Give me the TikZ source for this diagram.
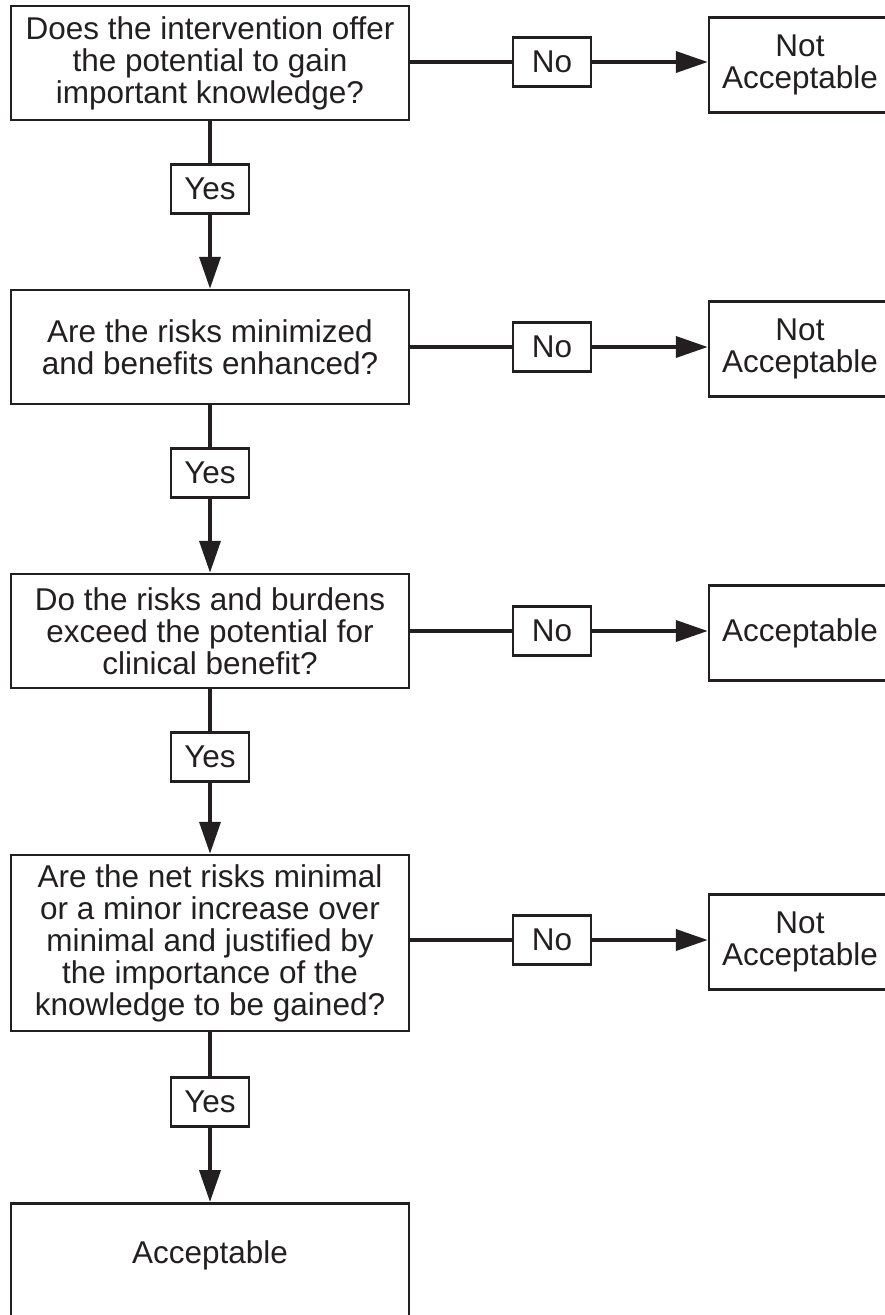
\documentclass[tikz,border=0pt]{standalone}
\usepackage{fontspec}
\setmainfont{Liberation Sans}
\usetikzlibrary{arrows.meta}
\definecolor{ink}{HTML}{231F20}
\tikzset{
  txt/.style={font=\fontsize{31.5}{32}\selectfont, text=ink, align=center, inner sep=0pt},
  mainbox/.style={txt, draw=ink, line width=2.5pt, minimum width=398pt, minimum height=114pt},
  endbox/.style={txt, draw=ink, line width=2.5pt, minimum width=182pt, minimum height=95pt},
  tagbox/.style={txt, draw=ink, line width=2.5pt, minimum width=78pt, minimum height=49pt},
  conn/.style={draw=ink, line width=3.8pt},
  arr/.style={conn, -{Triangle[length=32pt,width=21pt]}}
}
\begin{document}
\begin{tikzpicture}[x=1pt,y=-1pt]
\clip (0,0) rectangle (885,1315);
\fill[white] (0,0) rectangle (885,1315);
% main column
\node[mainbox] (b1) at (210,63) {Does the intervention offer\\the potential to gain\\important knowledge?};
\node[mainbox] (b2) at (210,347) {Are the risks minimized\\and benefits enhanced?};
\node[mainbox] (b3) at (210,631) {Do the risks and burdens\\exceed the potential for\\clinical benefit?};
\node[mainbox, minimum height=176pt] (b4) at (210,943) {Are the net risks minimal\\or a minor increase over\\minimal and justified by\\the importance of the\\knowledge to be gained?};
\node[mainbox, minimum height=130pt, anchor=north] (b5) at (210,1202) {};
\node[txt] (b5t) at (210,1255) {Acceptable};
% yes tags
\node[tagbox] (y1) at (210,189) {Yes};
\node[tagbox] (y2) at (210,473) {Yes};
\node[tagbox] (y3) at (210,757) {Yes};
\node[tagbox] (y4) at (210,1102) {Yes};
% no tags
\node[tagbox] (n1) at (552,62) {No};
\node[tagbox] (n2) at (552,347) {No};
\node[tagbox] (n3) at (552,631) {No};
\node[tagbox] (n4) at (552,940) {No};
% outcome boxes
\node[endbox] (e1) at (800,65) {Not\\Acceptable};
\node[endbox] (e2) at (800,349) {Not\\Acceptable};
\node[endbox] (e3) at (800,633) {Acceptable};
\node[endbox] (e4) at (800,942) {Not\\Acceptable};
% vertical connectors
\path[conn] (b1.south) -- (y1.north);
\path[arr] (y1.south) -- (b2.north);
\path[conn] (b2.south) -- (y2.north);
\path[arr] (y2.south) -- (b3.north);
\path[conn] (b3.south) -- (y3.north);
\path[arr] (y3.south) -- (b4.north);
\path[conn] (b4.south) -- (y4.north);
\path[arr] (y4.south) -- (b5.north);
% horizontal connectors
\path[conn] (b1.east |- n1.west) -- (n1.west);
\path[arr] (n1.east) -- (e1.west |- n1.east);
\path[conn] (b2.east |- n2.west) -- (n2.west);
\path[arr] (n2.east) -- (e2.west |- n2.east);
\path[conn] (b3.east |- n3.west) -- (n3.west);
\path[arr] (n3.east) -- (e3.west |- n3.east);
\path[conn] (b4.east |- n4.west) -- (n4.west);
\path[arr] (n4.east) -- (e4.west |- n4.east);
\end{tikzpicture}
\end{document}
